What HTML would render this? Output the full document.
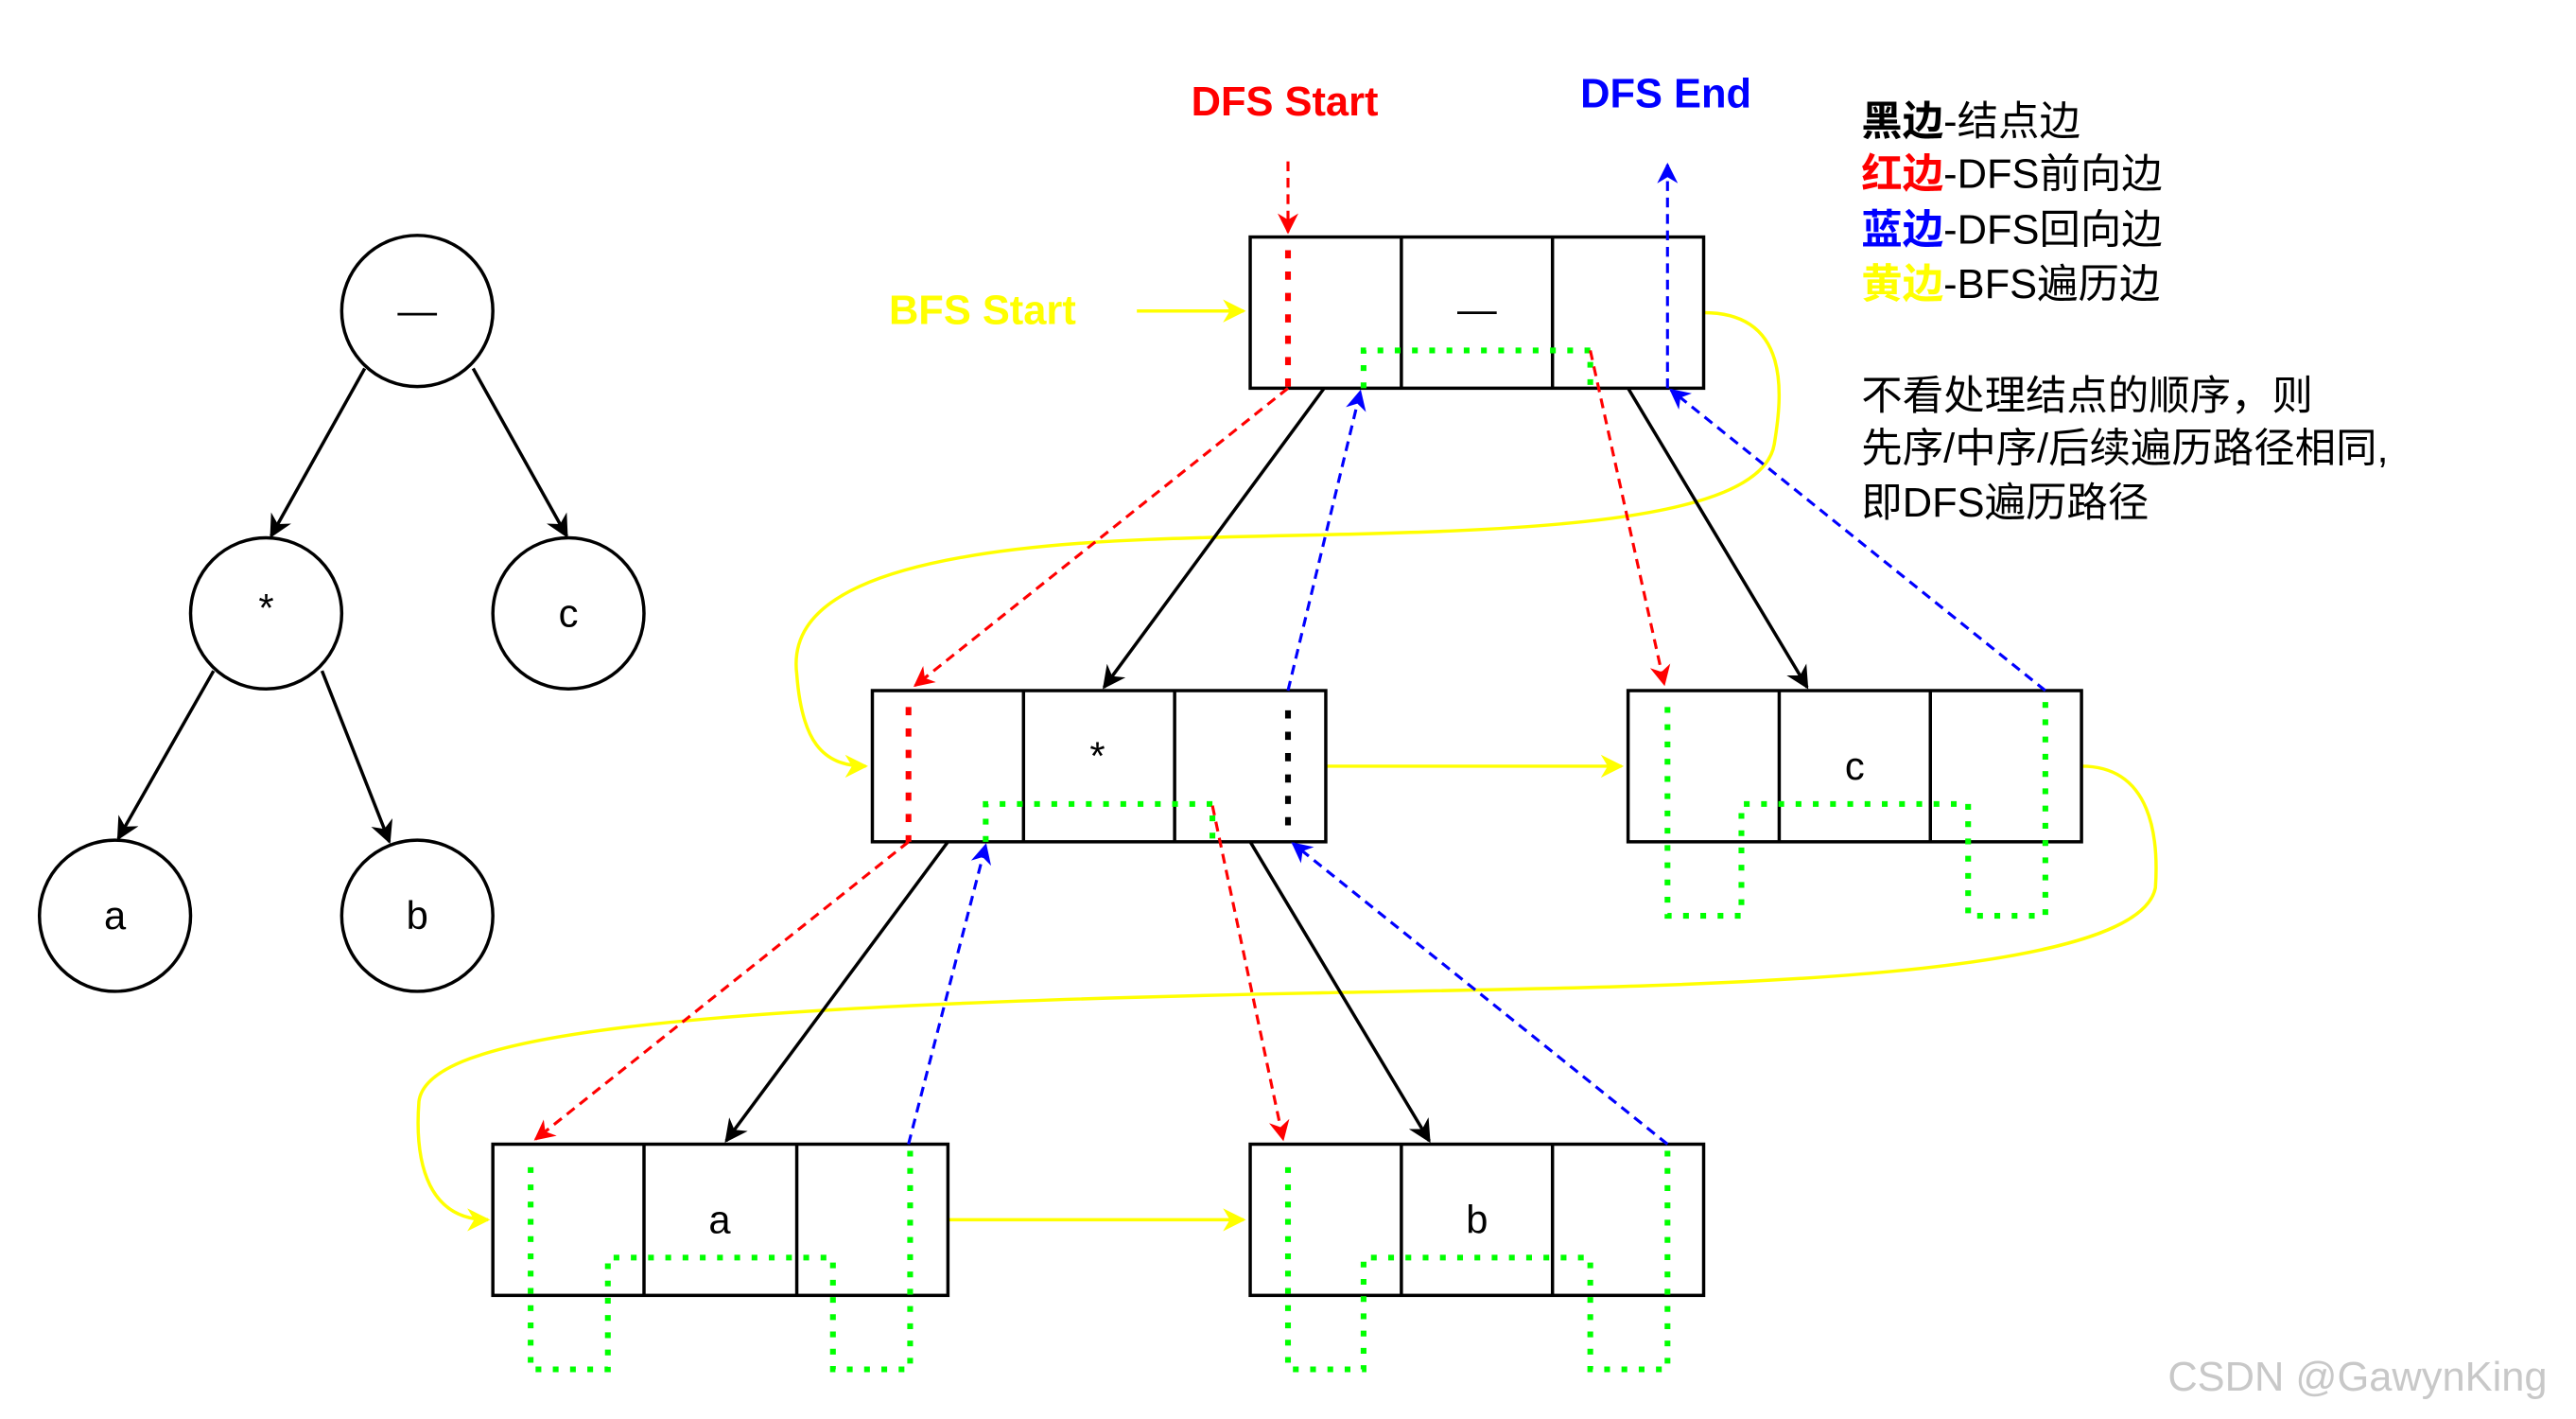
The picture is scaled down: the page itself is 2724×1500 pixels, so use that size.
<!DOCTYPE html>
<html><head><meta charset="utf-8"><style>
html,body{margin:0;padding:0;background:#fff;}
svg{display:block;}
text{font-family:"Liberation Sans","Noto Sans CJK SC",sans-serif;}
</style></head><body>
<svg width="2724" height="1500" viewBox="0 0 1568 863" xmlns="http://www.w3.org/2000/svg">
<defs>
<marker id="ak" viewBox="0 0 10 10" refX="9" refY="5" markerWidth="7" markerHeight="7" orient="auto-start-reverse"><path d="M0,0 L10,5 L0,10 L3,5 z" fill="#000"/></marker>
<marker id="ar" viewBox="0 0 10 10" refX="9" refY="5" markerWidth="7" markerHeight="7" orient="auto"><path d="M0,0 L10,5 L0,10 L3,5 z" fill="#f00"/></marker>
<marker id="ab" viewBox="0 0 10 10" refX="9" refY="5" markerWidth="7" markerHeight="7" orient="auto"><path d="M0,0 L10,5 L0,10 L3,5 z" fill="#00f"/></marker>
<marker id="ay" viewBox="0 0 10 10" refX="9" refY="5" markerWidth="7" markerHeight="7" orient="auto"><path d="M0,0 L10,5 L0,10 L3,5 z" fill="#ff0"/></marker>
</defs>

<!-- Tree -->
<g fill="#fff" stroke="#000" stroke-width="2">
<circle cx="254" cy="189" r="46"/><circle cx="162" cy="373" r="46"/><circle cx="346" cy="373" r="46"/>
<circle cx="70" cy="557" r="46"/><circle cx="254" cy="557" r="46"/>
</g>
<g stroke="#000" stroke-width="2" marker-end="url(#ak)">
<line x1="222" y1="224" x2="165" y2="326"/><line x1="288" y1="224" x2="345" y2="326"/>
<line x1="130" y1="408" x2="72" y2="510"/><line x1="196" y1="408" x2="237" y2="512"/>
</g>
<g font-size="24" text-anchor="middle">
<text x="254" y="197">—</text><text x="162" y="378">*</text><text x="346" y="381">c</text>
<text x="70" y="565">a</text><text x="254" y="565">b</text>
</g>

<!-- Yellow BFS -->
<g stroke="#ff0" stroke-width="2" fill="none">
<line x1="692" y1="189" x2="757" y2="189" marker-end="url(#ay)"/>
<path d="M1037,190 C1090,190 1085,240 1080,270 C1070,330 850,322 700,328 C520,335 480,370 485,410 C488,450 500,466 527,466" marker-end="url(#ay)"/>
<line x1="807" y1="466" x2="987" y2="466" marker-end="url(#ay)"/>
<path d="M1267,466 C1310,466 1314,510 1312,540 C1300,600 1000,600 800,604 C400,612 260,630 255,670 C252,710 262,742 297,742" marker-end="url(#ay)"/>
<line x1="577" y1="742" x2="757" y2="742" marker-end="url(#ay)"/>
</g>

<!-- Boxes -->
<g fill="#fff" stroke="#000" stroke-width="2">
<rect x="761" y="144" width="276" height="92"/><line x1="853" y1="144" x2="853" y2="236"/><line x1="945" y1="144" x2="945" y2="236"/>
<rect x="531" y="420" width="276" height="92"/><line x1="623" y1="420" x2="623" y2="512"/><line x1="715" y1="420" x2="715" y2="512"/>
<rect x="991" y="420" width="276" height="92"/><line x1="1083" y1="420" x2="1083" y2="512"/><line x1="1175" y1="420" x2="1175" y2="512"/>
<rect x="300" y="696" width="277" height="92"/><line x1="392" y1="696" x2="392" y2="788"/><line x1="485" y1="696" x2="485" y2="788"/>
<rect x="761" y="696" width="276" height="92"/><line x1="853" y1="696" x2="853" y2="788"/><line x1="945" y1="696" x2="945" y2="788"/>
</g>
<g font-size="24" text-anchor="middle">
<text x="899" y="196">—</text><text x="668" y="468">*</text><text x="1129" y="474">c</text>
<text x="438" y="750">a</text><text x="899" y="750">b</text>
</g>

<!-- Black tree edges between boxes -->
<g stroke="#000" stroke-width="2" marker-end="url(#ak)">
<line x1="806" y1="236" x2="672" y2="418"/><line x1="991" y1="236" x2="1100" y2="418"/>
<line x1="577" y1="512" x2="442" y2="694"/><line x1="761" y1="512" x2="870" y2="694"/>
</g>

<!-- Green dotted -->
<g stroke="#0f0" stroke-width="3.5" fill="none" stroke-dasharray="3.5 7">
<path d="M830,236 L830,213 L968,213 L968,236"/>
<path d="M600,512 L600,489 L738,489 L738,512"/>
<path d="M1015,430 L1015,557 L1060,557 L1060,489 L1198,489 L1198,557 L1245,557 L1245,420"/>
<path d="M323,710 L323,833 L370,833 L370,765 L507,765 L507,833 L554,833 L554,696"/>
<path d="M784,710 L784,833 L830,833 L830,765 L968,765 L968,833 L1015,833 L1015,696"/>
</g>

<!-- Red -->
<g stroke="#f00" stroke-width="1.8" fill="none" stroke-dasharray="6 4">
<line x1="784" y1="98" x2="784" y2="141" marker-end="url(#ar)"/>
<line x1="784" y1="236" x2="557" y2="417" marker-end="url(#ar)"/>
<line x1="553" y1="512" x2="326" y2="693" marker-end="url(#ar)"/>
<line x1="968" y1="213" x2="1013" y2="416" marker-end="url(#ar)"/>
<line x1="738" y1="490" x2="781" y2="693" marker-end="url(#ar)"/>
</g>
<g stroke-width="3.5" stroke-dasharray="5 8" fill="none">
<line x1="784" y1="152" x2="784" y2="236" stroke="#f00"/>
<line x1="553" y1="430" x2="553" y2="512" stroke="#f00"/>
<line x1="784" y1="432" x2="784" y2="505" stroke="#000"/>
</g>

<!-- Blue -->
<g stroke="#00f" stroke-width="1.8" fill="none" stroke-dasharray="6 4">
<line x1="1015" y1="236" x2="1015" y2="100" marker-end="url(#ab)"/>
<line x1="1245" y1="420" x2="1017" y2="237" marker-end="url(#ab)"/>
<line x1="784" y1="420" x2="828" y2="238" marker-end="url(#ab)"/>
<line x1="1015" y1="696" x2="787" y2="513" marker-end="url(#ab)"/>
<line x1="553" y1="696" x2="600" y2="514" marker-end="url(#ab)"/>
</g>

<!-- Labels -->
<g font-weight="bold" font-size="25" text-anchor="middle">
<text x="782" y="70" fill="#f00">DFS Start</text>
<text x="1014" y="65" fill="#00f">DFS End</text>
<text x="598" y="197" fill="#ff0">BFS Start</text>
</g>
<g font-size="25">
<text x="1133" y="82"><tspan font-weight="bold" fill="#000">黑边</tspan>-结点边</text>
<text x="1133" y="114"><tspan font-weight="bold" fill="#f00">红边</tspan>-DFS前向边</text>
<text x="1133" y="148"><tspan font-weight="bold" fill="#00f">蓝边</tspan>-DFS回向边</text>
<text x="1133" y="181"><tspan font-weight="bold" fill="#ff0">黄边</tspan>-BFS遍历边</text>
<text x="1133" y="249">不看处理结点的顺序，则</text>
<text x="1133" y="281">先序/中序/后续遍历路径相同,</text>
<text x="1133" y="314">即DFS遍历路径</text>
</g>
<text x="1435" y="846" font-size="25" fill="#c8c8c8" text-anchor="middle">CSDN @GawynKing</text>
</svg>
</body></html>
